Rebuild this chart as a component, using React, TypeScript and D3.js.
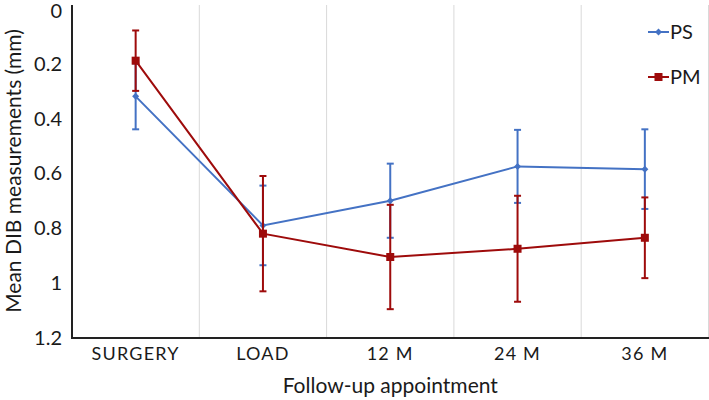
import React from "react";
import * as d3 from "d3";

const categories = ["SURGERY", "LOAD", "12 M", "24 M", "36 M"];
const psMean = [0.32, 0.79, 0.70, 0.575, 0.585];
const psErr = [0.12, 0.145, 0.135, 0.133, 0.145];
const pmMean = [0.19, 0.82, 0.905, 0.875, 0.835];
const pmErr = [0.11, 0.21, 0.19, 0.193, 0.147];
const yTicks = [0, 0.2, 0.4, 0.6, 0.8, 1, 1.2];
const seriesNames = ["PS", "PM"];

const W = 709, H = 400;
const left = 72, right = 708.5, top = 8.5, bottom = 338;
const BLUE = "#4472C4";
const RED = "#9E0B0B";
const FONT = "Lato, 'Open Sans', sans-serif";
const TXT = "#1a1a1a";

export default function App() {
  const x = d3.scaleBand<string>().domain(categories).range([left, right]);
  const y = d3.scaleLinear().domain([0, 1.2]).range([top, bottom]);
  const cx = (c: string) => (x(c) as number) + x.bandwidth() / 2;
  const line = d3.line<number>().x((_, i) => cx(categories[i])).y((d) => y(d));

  const series = [
    { name: seriesNames[0], mean: psMean, err: psErr, color: BLUE, marker: "diamond" },
    { name: seriesNames[1], mean: pmMean, err: pmErr, color: RED, marker: "square" },
  ];

  return (
    <svg width={W} height={H} style={{ position: "absolute", left: 0, top: 0, background: "#fff" }}>
      {categories.map((c, i) => (
        <line key={"g" + i} x1={(x(c) as number) + x.bandwidth()} x2={(x(c) as number) + x.bandwidth()}
          y1={5} y2={bottom} stroke="#D9D9D9" strokeWidth={1} />
      ))}
      <line x1={left} x2={left} y1={5} y2={bottom} stroke="#222" strokeWidth={2} />
      <line x1={left - 1} x2={W} y1={bottom} y2={bottom} stroke="#222" strokeWidth={2} />
      {yTicks.map((t) => (
        <text key={"y" + t} x={62} y={Math.max(y(t), 10.5)} dy="0.36em" textAnchor="end" fontFamily={FONT} fontSize={20} fill={TXT}>
          {String(t)}
        </text>
      ))}
      {categories.map((c) => (
        <text key={"x" + c} x={cx(c)} y={354} dy="0.36em" textAnchor="middle" fontFamily={FONT} fontSize={18}
          letterSpacing={1.2} fill={TXT}>
          {c}
        </text>
      ))}
      <text x={(left + right) / 2} y={393} textAnchor="middle" fontFamily={FONT} fontSize={21} fill={TXT}>
        Follow-up appointment
      </text>
      <text transform={`translate(13, 171) rotate(-90)`} dy="0.36em" textAnchor="middle"
        fontFamily={FONT} fontSize={21} fill={TXT}>
        Mean DIB measurements (mm)
      </text>
      {series.map((s) => (
        <g key={s.name}>
          <path d={line(s.mean) as string} fill="none" stroke={s.color} strokeWidth={2} />
          {s.mean.map((m, i) => {
            const px = cx(categories[i]);
            const y1 = y(m - s.err[i]);
            const y2 = y(m + s.err[i]);
            return (
              <g key={i}>
                <line x1={px} x2={px} y1={y1} y2={y2} stroke={s.color} strokeWidth={2} />
                <line x1={px - 3.5} x2={px + 3.5} y1={y1} y2={y1} stroke={s.color} strokeWidth={2} />
                <line x1={px - 3.5} x2={px + 3.5} y1={y2} y2={y2} stroke={s.color} strokeWidth={2} />
                {s.marker === "square" ? (
                  <rect x={px - 4} y={y(m) - 4} width={8} height={8} fill={s.color} />
                ) : (
                  <path d={`M${px},${y(m) - 3.5}L${px + 3.5},${y(m)}L${px},${y(m) + 3.5}L${px - 3.5},${y(m)}Z`} fill={s.color} />
                )}
              </g>
            );
          })}
        </g>
      ))}
      {series.map((s, i) => {
        const ly = 32 + i * 45;
        return (
          <g key={"l" + s.name}>
            <line x1={648} x2={669} y1={ly} y2={ly} stroke={s.color} strokeWidth={2} />
            {s.marker === "square" ? (
              <rect x={654.5} y={ly - 4} width={8} height={8} fill={s.color} />
            ) : (
              <path d={`M658.5,${ly - 3.5}L662,${ly}L658.5,${ly + 3.5}L655,${ly}Z`} fill={s.color} />
            )}
            <text x={670} y={ly} dy="0.36em" fontFamily={FONT} fontSize={20} fill={TXT}>{s.name}</text>
          </g>
        );
      })}
    </svg>
  );
}
